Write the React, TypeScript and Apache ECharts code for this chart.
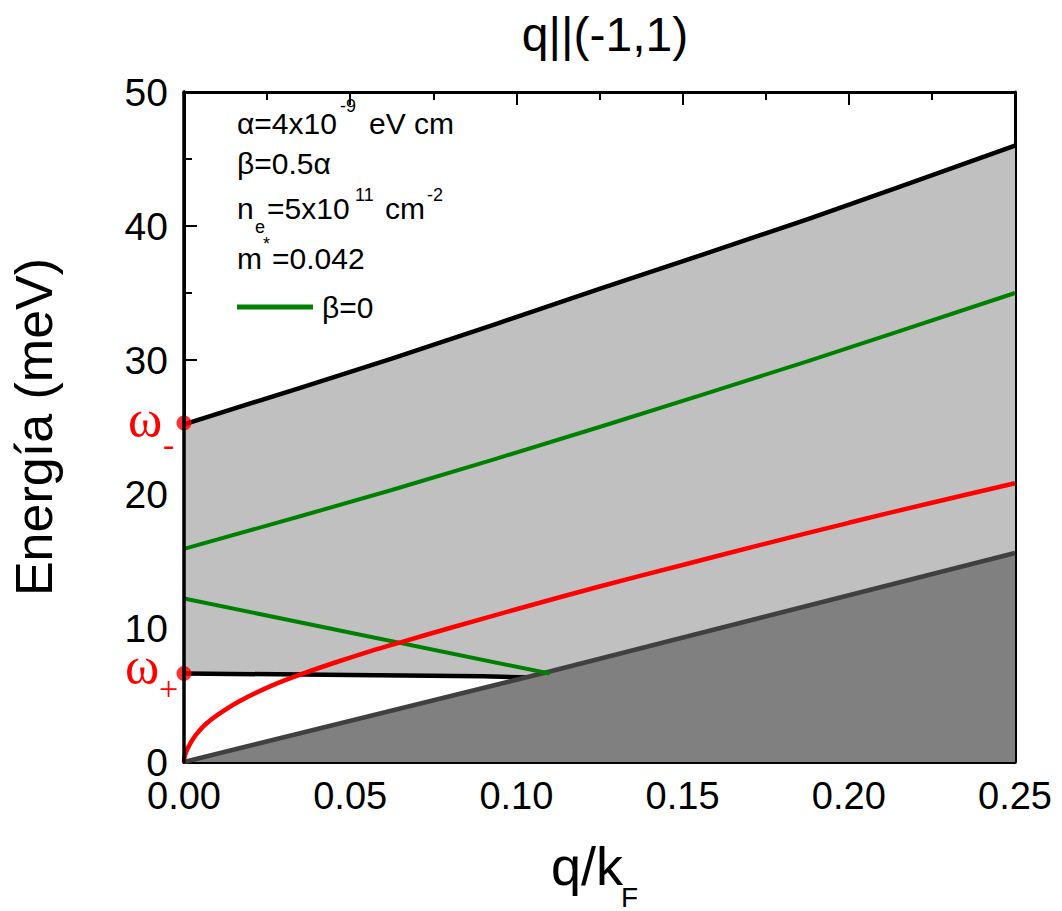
import React, { useEffect, useRef } from "react";
import * as echarts from "echarts";

// ---- data ----
const upperX = [0, 0.0625, 0.125, 0.1875, 0.25];
const upperY = [25.2, 30.1, 35.3, 40.5, 46.0];

const lowerBlackX = [0, 0.05, 0.09, 0.104];
const lowerBlackY = [6.6, 6.5, 6.4, 6.3];

const darkX = [0, 0.11, 0.25];
const darkY = [0, 6.75, 15.6];

const greenUpX = [0, 0.0625, 0.125, 0.1875, 0.25];
const greenUpY = [15.9, 20.3, 25.0, 29.9, 35.0];

const greenLowX = [0, 0.11];
const greenLowY = [12.2, 6.6];

const redX = [0, 0.0002, 0.0008, 0.0015, 0.0024, 0.004, 0.0064, 0.01, 0.0164, 0.0264, 0.0364, 0.0464, 0.0564, 0.0654, 0.08, 0.1, 0.125, 0.15, 0.175, 0.2, 0.225, 0.25];
const redY = [0, 0.45, 0.85, 1.2, 1.6, 2.15, 2.8, 3.5, 4.5, 5.7, 6.65, 7.5, 8.3, 8.95, 10.0, 11.4, 13.1, 14.7, 16.3, 17.85, 19.35, 20.8];

const omegaPoints = [
  [0, 25.3],
  [0, 6.6],
];

const xTickInterval = 0.05;
const yTickInterval = 10;

const zip = (xs: number[], ys: number[]) => xs.map((x, i) => [x, ys[i]]);

const FONT = "Arial, 'Liberation Sans', sans-serif";
const SERIF = "'Times New Roman', 'Liberation Serif', serif";

export default function App() {
  const ref = useRef<HTMLDivElement>(null);
  useEffect(() => {
    document.body.style.margin = "0";
    if (!ref.current) return;
    const chart = echarts.init(ref.current, undefined, { renderer: "svg" });
    const txt = (text: string, x: number, y: number, size: number, opts: any = {}) => ({
      type: "text",
      x,
      y,
      z: 100,
      style: {
        text,
        fontSize: size,
        fontFamily: opts.family || FONT,
        fill: opts.fill || "#000",
        align: opts.align || "left",
        verticalAlign: "middle",
      },
    });
    const option: any = {
      animation: false,
      backgroundColor: "#fff",
      grid: { left: 182, right: 47, top: 92, bottom: 149, containLabel: false },
      xAxis: [
        {
          type: "value",
          position: "bottom",
          min: 0,
          max: 0.25,
          interval: xTickInterval,
          axisLine: { show: true, onZero: false, lineStyle: { color: "#000", width: 3 } },
          axisTick: { show: true, inside: true, length: 13, lineStyle: { color: "#000", width: 2 } },
          minorTick: { show: true, splitNumber: 2, length: 8, lineStyle: { color: "#000", width: 2 } },
          axisLabel: {
            show: true,
            margin: 15,
            fontSize: 38,
            fontFamily: FONT,
            color: "#000",
            formatter: (v: number) => v.toFixed(2),
          },
          splitLine: { show: false },
        },
        {
          type: "value",
          position: "top",
          min: 0,
          max: 0.25,
          interval: xTickInterval,
          axisLine: { show: true, onZero: false, lineStyle: { color: "#000", width: 3 } },
          axisTick: { show: true, inside: true, length: 13, lineStyle: { color: "#000", width: 2 } },
          minorTick: { show: true, splitNumber: 2, length: 8, lineStyle: { color: "#000", width: 2 } },
          axisLabel: { show: false },
          splitLine: { show: false },
        },
      ],
      yAxis: [
        {
          type: "value",
          position: "left",
          min: 0,
          max: 50,
          interval: yTickInterval,
          name: "Energía (meV)",
          nameLocation: "middle",
          nameGap: 124,
          nameTextStyle: { fontSize: 52, fontFamily: FONT, color: "#000" },
          axisLine: { show: true, onZero: false, lineStyle: { color: "#000", width: 3 } },
          axisTick: { show: true, inside: true, length: 13, lineStyle: { color: "#000", width: 2 } },
          minorTick: { show: true, splitNumber: 2, length: 8, lineStyle: { color: "#000", width: 2 } },
          axisLabel: { show: true, margin: 16, fontSize: 39, fontFamily: FONT, color: "#000" },
          splitLine: { show: false },
        },
        {
          type: "value",
          position: "left",
          offset: 0,
          min: 0,
          max: 50,
          interval: yTickInterval,
          z: 20,
          axisLine: { show: true, onZero: false, lineStyle: { color: "#000", width: 3.5 } },
          axisTick: { show: false },
          axisLabel: { show: false },
          splitLine: { show: false },
        },
        {
          type: "value",
          position: "right",
          min: 0,
          max: 50,
          interval: yTickInterval,
          axisLine: { show: true, onZero: false, lineStyle: { color: "#000", width: 3 } },
          axisTick: { show: false },
          axisLabel: { show: false },
          splitLine: { show: false },
        },
      ],
      legend: {
        show: true,
        left: 237,
        top: 292,
        padding: 0,
        itemWidth: 76,
        itemHeight: 5,
        data: [{ name: "β=0", icon: "rect", itemStyle: { color: "#008000" } }],
        textStyle: { fontSize: 30, fontFamily: FONT, color: "#000", padding: [0, 0, 0, 4] },
        selectedMode: false,
      },
      series: [
        {
          name: "upper",
          type: "line",
          data: zip(upperX, upperY),
          smooth: 0.3,
          symbol: "none",
          z: 1,
          lineStyle: { color: "#000", width: 4.5 },
          areaStyle: { color: "#c0c0c0", opacity: 1, origin: "start" },
        },
        {
          name: "lowerBlack",
          type: "line",
          data: zip(lowerBlackX, lowerBlackY),
          symbol: "none",
          z: 2,
          lineStyle: { color: "#000", width: 4.5 },
          areaStyle: { color: "#fff", opacity: 1, origin: "start" },
        },
        {
          name: "dark",
          type: "line",
          data: zip(darkX, darkY),
          symbol: "none",
          z: 3,
          lineStyle: { color: "#404040", width: 4.5 },
          areaStyle: { color: "#808080", opacity: 1, origin: "start" },
        },
        {
          name: "β=0",
          type: "line",
          data: zip(greenUpX, greenUpY),
          smooth: 0.3,
          symbol: "none",
          z: 4,
          itemStyle: { color: "#008000" },
          lineStyle: { color: "#008000", width: 4 },
        },
        {
          name: "greenLow",
          type: "line",
          data: zip(greenLowX, greenLowY),
          symbol: "none",
          z: 4,
          lineStyle: { color: "#008000", width: 4 },
        },
        {
          name: "red",
          type: "line",
          data: zip(redX, redY),
          smooth: 0.3,
          symbol: "none",
          z: 5,
          lineStyle: { color: "#ff0000", width: 4.5 },
        },
        {
          name: "omega",
          type: "scatter",
          data: omegaPoints,
          symbolSize: 15,
          clip: true,
          z: 6,
          itemStyle: { color: "#ff0000" },
        },
      ],
      graphic: [
        txt("q||(-1,1)", 605, 34, 48, { align: "center" }),
        txt("q/k", 587, 866, 54, { align: "center" }),
        txt("F", 621, 897, 28),
        txt("ω", 128, 418, 52, { family: SERIF, fill: "#ff0000" }),
        txt("-", 163, 444, 34, { family: SERIF, fill: "#ff0000" }),
        txt("ω", 125, 665, 52, { family: SERIF, fill: "#ff0000" }),
        txt("+", 159, 688, 34, { family: SERIF, fill: "#ff0000" }),
        txt("α=4x10", 237, 123, 30),
        txt("-9", 340, 106, 18),
        txt("eV cm", 369, 123, 30),
        txt("β=0.5α", 237, 163, 30),
        txt("n", 237, 208, 30),
        txt("e", 255, 227, 18),
        txt("=5x10", 267, 208, 30),
        txt("11", 355, 195, 18),
        txt("cm", 385, 208, 30),
        txt("-2", 427, 195, 18),
        txt("m", 237, 258, 30),
        txt("*", 263, 244, 18),
        txt("=0.042", 272, 258, 30),
      ],
    };
    chart.setOption(option);
    return () => chart.dispose();
  }, []);
  return <div ref={ref} style={{ width: 1062, height: 911 }} />;
}
